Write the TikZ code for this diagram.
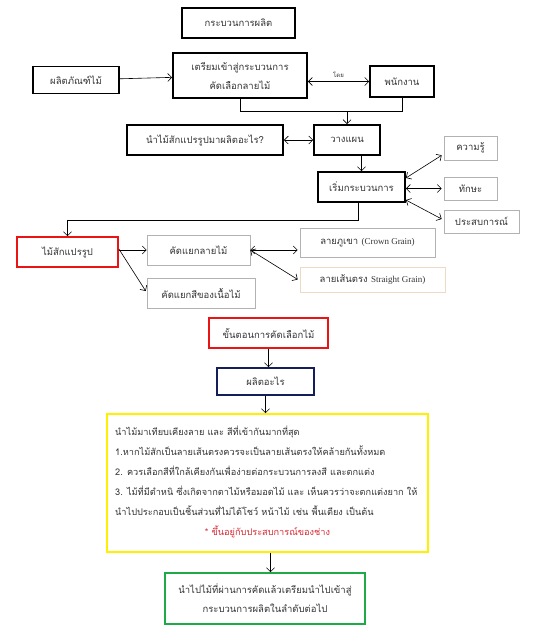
\documentclass[tikz,border=0pt]{standalone}
\usepackage{fontspec}
\setmainfont{Liberation Serif}
\newfontfamily\thaifont[Script=Thai]{Loma}
\usetikzlibrary{arrows.meta}
\definecolor{cRed}{RGB}{235,20,20}
\definecolor{cNavy}{RGB}{20,30,90}
\definecolor{cYellow}{RGB}{255,240,0}
\definecolor{cGreen}{RGB}{30,170,70}
\definecolor{cNote}{RGB}{215,40,50}
\tikzset{
	boldbox/.style ={rectangle, draw=black, line width=1.8pt, align=center, inner sep=2pt},
	thinbox/.style ={rectangle, draw=black!30, line width=0.6pt, align=center, inner sep=2pt},
	redbox/.style  ={boldbox, draw=cRed},
	navybox/.style ={boldbox, draw=cNavy},
	yellowbox/.style={boldbox, draw=cYellow},
	greenbox/.style={boldbox, draw=cGreen},
	arr/.style     ={-{Straight Barb[length=4pt,width=8pt]}, line width=0.6pt},
	darr/.style    ={{Straight Barb[length=4pt,width=8pt]}-{Straight Barb[length=4pt,width=8pt]}, line width=0.6pt},
}

\begin{document}
\begin{tikzpicture}[x=1pt, y=-1pt, font=\thaifont\fontsize{9.5}{19}\selectfont, text=black!80]
	\useasboundingbox (0,0) rectangle (539,640);
	% top part
	\node[boldbox, minimum width=113, minimum height=30] (title) at (238.5,23) {กระบวนการผลิต};
	\node[boldbox, minimum width=134, minimum height=45] (prep) at (240,75.5) {เตรียมเข้าสู่กระบวนการ\\คัดเลือกลายไม้};
	\node[boldbox, minimum width=86, minimum height=27] (product) at (76,80) {ผลิตภัณฑ์ไม้};
	\node[boldbox, minimum width=64, minimum height=31] (staff) at (402,81.5) {พนักงาน};
	\draw[arr] (product) -- (prep);
	\draw[darr] (prep.east |- staff) -- (staff.west) node[midway, above=0pt, font=\thaifont\fontsize{6}{7}\selectfont] (by) {โดย};
	\coordinate (j1) at (0,111);
	\draw[line width=0.6pt] (prep.south) -- (prep.south |- j1) -- (staff.south |- j1) -- (staff.south);
	% planning
	\node[boldbox, minimum width=156, minimum height=30] (whatmake) at (205,140) {นำไม้สักแปรรูปมาผลิตอะไร?};
	\node[boldbox, minimum width=66, minimum height=30] (plan) at (347,140) {วางแผน};
	\node[boldbox, minimum width=87, minimum height=30] (start) at (361.5,187) {เริ่มกระบวนการ};
	\draw[arr] (plan.north |- j1) -- (plan.north);
	\draw[darr] (whatmake) -- (plan);
	\draw[arr] (plan.south -| start.north) -- (start.north);
	\node[thinbox, minimum width=53, minimum height=24] (know) at (470.5,148) {ความรู้};
	\node[thinbox, minimum width=53, minimum height=23] (skill) at (470.5,188.5) {ทักษะ};
	\node[thinbox, minimum width=75, minimum height=23] (exper) at (481.5,221.5) {ประสบการณ์};
	\draw[darr] ([yshift=9pt]start.east) -- ([xshift=-2pt,yshift=5pt]know.south west);
	\draw[darr] (start.east |- skill) -- ([xshift=-2pt]skill.west);
	\draw[darr] ([yshift=-13pt]start.east) -- ([xshift=-2pt,yshift=2.5pt]exper.west);
	% sorting teak
	\node[redbox, minimum width=101, minimum height=30] (teak) at (67.5,252) {ไม้สักแปรรูป};
	\coordinate (j2) at (0,220);
	\draw[arr] ([xshift=-3pt]start.south) -- ([xshift=-3pt]start.south |- j2) -| (teak.north);
	\node[thinbox, minimum width=103, minimum height=30] (grain) at (198.5,250) {คัดแยกลายไม้};
	\node[thinbox, minimum width=108, minimum height=30] (color) at (201,293) {คัดแยกสีของเนื้อไม้};
	\node[thinbox, minimum width=135, minimum height=29] (crown) at (367.5,242.5) {ลายภูเขา {\rmfamily\fontsize{9}{10}\selectfont (Crown Grain)}};
	\node[thinbox, draw=brown!30, minimum width=145, minimum height=25] (straight) at (372.5,279.5) {ลายเส้นตรง {\rmfamily\fontsize{9}{10}\selectfont Straight Grain)}};
	\draw[arr] (teak.east |- grain) -- (grain.west);
	\draw[arr] ([yshift=1pt]teak.east |- grain) -- ([xshift=-1pt,yshift=2pt]color.west);
	\draw[darr] (grain.east) -- ([xshift=-2pt]crown.west |- grain);
	\draw[darr] (grain.east) -- ([xshift=-2pt]straight.west);
	% selection steps
	\node[redbox, minimum width=119, minimum height=30] (stepsel) at (268.5,333) {ขั้นตอนการคัดเลือกไม้};
	\node[navybox, minimum width=97, minimum height=27] (whatprod) at (265.5,381.5) {ผลิตอะไร};
	\node[yellowbox, minimum width=321, minimum height=138] (notes) at (267.5,483) {};
	\node[anchor=north west, align=left, inner sep=0pt, font=\thaifont\fontsize{9.2}{20}\selectfont] (notetxt) at (115,426) {นำไม้มาเทียบเคียงลาย และ สีที่เข้ากันมากที่สุด\\
		1.หากไม้สักเป็นลายเส้นตรงควรจะเป็นลายเส้นตรงให้คล้ายกันทั้งหมด\\
		2. ควรเลือกสีที่ใกล้เคียงกันเพื่อง่ายต่อกระบวนการลงสี และตกแต่ง\\
		3. ไม้ที่มีตำหนิ ซึ่งเกิดจากตาไม้หรือมอดไม้ และ เห็นควรว่าจะตกแต่งยาก ให้\\
		นำไปประกอบเป็นชิ้นส่วนที่ไม่ได้โชว์ หน้าไม้ เช่น พื้นเตียง เป็นต้น};
	\node[text=cNote, font=\thaifont\fontsize{9.2}{20}\selectfont] (notestar) at (267.5,532) {* ขึ้นอยู่กับประสบการณ์ของช่าง};
	\node[greenbox, minimum width=200, minimum height=51] (final) at (265,598.5) {นำไปไม้ที่ผ่านการคัดแล้วเตรียมนำไปเข้าสู่\\กระบวนการผลิตในลำดับต่อไป};
	\draw[arr] (stepsel) -- (stepsel |- whatprod.north);
	\draw[arr] (whatprod) -- (whatprod |- notes.north);
	\draw[arr] ([xshift=3pt]notes.south) -- ([xshift=3pt]notes.south |- final.north);
\end{tikzpicture}
\end{document}
